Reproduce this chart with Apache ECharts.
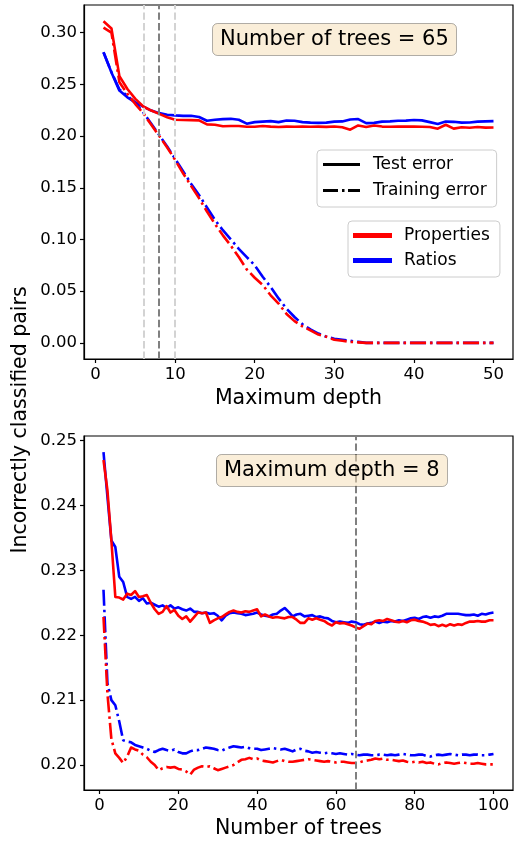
<!DOCTYPE html>
<html lang="en">
<head>
    <meta charset="UTF-8">
    <script src="https://cdn.jsdelivr.net/npm/echarts@6/dist/echarts.min.js"></script>
    <title>Incorrectly classified pairs</title>
    <style>
        html, body {
            margin: 0;
            padding: 0;
            background: #fff;
        }

        #main {
            width: 514px;
            height: 847px;
        }
    </style>
</head>

<body>
<div id="main"></div>

<script>
    // top panel: error vs maximum depth (number of trees = 65)
    var depthPropTest = [
        0.311, 0.304, 0.258, 0.2456, 0.236, 0.2286, 0.2247, 0.2215, 0.2183, 0.2158,
        0.2155, 0.2154, 0.2152, 0.2113, 0.2110, 0.2095, 0.2097, 0.2098, 0.2090, 0.2090,
        0.2098, 0.2092, 0.2088, 0.2092, 0.2090, 0.2093, 0.2090, 0.2092, 0.2089, 0.2093,
        0.2085, 0.2062, 0.2103, 0.2088, 0.2103, 0.2092, 0.2090, 0.2092, 0.2093, 0.2092,
        0.2090, 0.2088, 0.2072, 0.2110, 0.2072, 0.2085, 0.2080, 0.2088, 0.2082, 0.2083
    ];
    var depthPropTrain = [
        0.305, 0.300, 0.252, 0.241, 0.231, 0.222, 0.211, 0.200, 0.189, 0.177,
        0.164, 0.152, 0.140, 0.127, 0.115, 0.104, 0.094, 0.083, 0.071, 0.063,
        0.056, 0.046, 0.038, 0.028, 0.021, 0.016, 0.012, 0.008, 0.006, 0.003,
        0.002, 0.001, 0.0005, 0, 0, 0, 0, 0, 0, 0,
        0, 0, 0, 0, 0, 0, 0, 0, 0, 0
    ];
    var depthRatioTest = [
        0.281, 0.2615, 0.244, 0.2375, 0.2327, 0.2286, 0.2247, 0.2222, 0.2206, 0.2200,
        0.2196, 0.2196, 0.2185, 0.2148, 0.2158, 0.2164, 0.2167, 0.2158, 0.2120, 0.2135,
        0.2140, 0.2145, 0.2135, 0.2150, 0.2148, 0.2135, 0.2130, 0.2128, 0.2130, 0.2140,
        0.2142, 0.2160, 0.2165, 0.2125, 0.2128, 0.2140, 0.2142, 0.2148, 0.2150, 0.2155,
        0.2152, 0.2135, 0.2118, 0.2140, 0.2138, 0.2130, 0.2132, 0.2140, 0.2142, 0.2145
    ];
    var depthRatioTrain = [
        0.281, 0.262, 0.245, 0.239, 0.232, 0.223, 0.212, 0.201, 0.190, 0.178,
        0.166, 0.154, 0.143, 0.131, 0.119, 0.109, 0.100, 0.091, 0.083, 0.075,
        0.064, 0.054, 0.043, 0.033, 0.025, 0.018, 0.013, 0.009, 0.006, 0.004,
        0.003, 0.002, 0.001, 0, 0, 0, 0, 0, 0, 0,
        0, 0, 0, 0, 0, 0, 0, 0, 0, 0
    ];

    // bottom panel: error vs number of trees (maximum depth = 8)
    var treesPropTest = [
        0.2470, 0.2423, 0.2346, 0.2259, 0.2258, 0.2255, 0.2264, 0.2262, 0.2268, 0.2259,
        0.2260, 0.2262, 0.2250, 0.2240, 0.2233, 0.2236, 0.2245, 0.2235, 0.2239, 0.2230,
        0.2225, 0.2229, 0.2221, 0.2228, 0.2235, 0.2234, 0.2235, 0.2219, 0.2223, 0.2226,
        0.2228, 0.2232, 0.2236, 0.2238, 0.2236, 0.2235, 0.2237, 0.2236, 0.2238, 0.2240,
        0.2229, 0.2232, 0.2229, 0.2227, 0.2228, 0.2227, 0.2226, 0.2228, 0.2228, 0.2224,
        0.2219, 0.2219, 0.2226, 0.2224, 0.2226, 0.2224, 0.2222, 0.2218, 0.2215, 0.2220,
        0.2218, 0.2219, 0.2217, 0.2215, 0.2212, 0.2210, 0.2214, 0.2218, 0.2217, 0.2222,
        0.2223, 0.2222, 0.2225, 0.2223, 0.2221, 0.2220, 0.2222, 0.2220, 0.2223, 0.2224,
        0.2222, 0.2221, 0.2219, 0.2216, 0.2217, 0.2214, 0.2216, 0.2214, 0.2217, 0.2215,
        0.2217, 0.2216, 0.2219, 0.2221, 0.2221, 0.2222, 0.2221, 0.2221, 0.2223, 0.2223
    ];
    var treesRatioTest = [
        0.2482, 0.2413, 0.2346, 0.2336, 0.2290, 0.2282, 0.2259, 0.2256, 0.2259, 0.2253,
        0.2257, 0.2249, 0.2250, 0.2247, 0.2244, 0.2246, 0.2242, 0.2246, 0.2241, 0.2243,
        0.2240, 0.2238, 0.2241, 0.2236, 0.2236, 0.2234, 0.2235, 0.2233, 0.2234, 0.2230,
        0.2223, 0.2230, 0.2234, 0.2235, 0.2234, 0.2233, 0.2231, 0.2232, 0.2233, 0.2235,
        0.2232, 0.2230, 0.2229, 0.2232, 0.2233, 0.2238, 0.2242, 0.2236, 0.2229, 0.2232,
        0.2233, 0.2229, 0.2230, 0.2231, 0.2228, 0.2229, 0.2227, 0.2226, 0.2222, 0.2220,
        0.2221, 0.2220, 0.2219, 0.2221, 0.2220, 0.2217, 0.2216, 0.2218, 0.2219, 0.2221,
        0.2219, 0.2221, 0.2220, 0.2222, 0.2221, 0.2223, 0.2222, 0.2224, 0.2226, 0.2227,
        0.2225, 0.2228, 0.2229, 0.2227, 0.2229, 0.2228, 0.2230, 0.2233, 0.2233, 0.2233,
        0.2233, 0.2232, 0.2231, 0.2231, 0.2232, 0.2230, 0.2233, 0.2232, 0.2234, 0.2235
    ];
    var treesPropTrain = [
        0.2228, 0.2110, 0.2040, 0.2018, 0.2011, 0.2003, 0.2013, 0.2027, 0.2024, 0.2022,
        0.2016, 0.2012, 0.2005, 0.2000, 0.1992, 0.1995, 0.1997, 0.1996, 0.1997, 0.1994,
        0.1993, 0.1990, 0.1985, 0.1993, 0.1996, 0.1998, 0.1997, 0.1998, 0.1995, 0.1992,
        0.1994, 0.1996, 0.1998, 0.2000, 0.2004, 0.2008, 0.2009, 0.2011, 0.2009, 0.2010,
        0.2007, 0.2006, 0.2005, 0.2004, 0.2006, 0.2008, 0.2006, 0.2005, 0.2005, 0.2006,
        0.2007, 0.2008, 0.2009, 0.2008, 0.2007, 0.2006, 0.2005, 0.2006, 0.2005, 0.2004,
        0.2005, 0.2005, 0.2004, 0.2003, 0.2003, 0.2004, 0.2006, 0.2007, 0.2008, 0.2010,
        0.2009, 0.2010, 0.2008, 0.2008, 0.2007, 0.2006, 0.2007, 0.2005, 0.2004, 0.2005,
        0.2004, 0.2005, 0.2003, 0.2004, 0.2002, 0.2001, 0.2003, 0.2004, 0.2003, 0.2002,
        0.2003, 0.2004, 0.2003, 0.2002, 0.2002, 0.2003, 0.2002, 0.2001, 0.2001, 0.2001
    ];
    var treesRatioTrain = [
        0.2270, 0.2126, 0.2100, 0.2092, 0.2067, 0.2038, 0.2036, 0.2035, 0.2031, 0.2029,
        0.2027, 0.2025, 0.2022, 0.2020, 0.2023, 0.2025, 0.2023, 0.2022, 0.2024, 0.2020,
        0.2018, 0.2018, 0.2021, 0.2023, 0.2023, 0.2025, 0.2027, 0.2026, 0.2025, 0.2023,
        0.2022, 0.2025, 0.2027, 0.2029, 0.2028, 0.2027, 0.2028, 0.2026, 0.2025, 0.2025,
        0.2023, 0.2024, 0.2025, 0.2026, 0.2025, 0.2024, 0.2025, 0.2023, 0.2021, 0.2024,
        0.2025, 0.2022, 0.2021, 0.2019, 0.2020, 0.2019, 0.2018, 0.2019, 0.2018, 0.2017,
        0.2018, 0.2017, 0.2016, 0.2017, 0.2016, 0.2015, 0.2016, 0.2016, 0.2015, 0.2015,
        0.2016, 0.2016, 0.2015, 0.2016, 0.2015, 0.2016, 0.2017, 0.2016, 0.2015, 0.2015,
        0.2016, 0.2016, 0.2014, 0.2013, 0.2015, 0.2016, 0.2015, 0.2016, 0.2017, 0.2016,
        0.2015, 0.2016, 0.2016, 0.2015, 0.2016, 0.2016, 0.2015, 0.2015, 0.2016, 0.2017
    ];

    var depthTicks = [0, 10, 20, 30, 40, 50];
    var depthErrTicks = [0, 0.05, 0.10, 0.15, 0.20, 0.25, 0.30];
    var treesTicks = [0, 20, 40, 60, 80, 100];
    var treesErrTicks = [0.20, 0.21, 0.22, 0.23, 0.24, 0.25];
    var depthMarks = [6, 8, 10];   // chosen depth 8, neighbours 6 and 10
    var treesMarks = [65];

    var FONT = 'DejaVu Sans';
    var RED = '#ff0000';
    var BLUE = '#0000ff';
    var DASHDOT = [16, 4, 2.5, 4];

    function pairs(ys) {
        return ys.map(function (v, i) {
            return [i + 1, v];
        });
    }

    function xAxisOf(gridIndex, min, max, ticks, name, gap) {
        return {
            type: 'value', gridIndex: gridIndex, min: min, max: max,
            name: name, nameLocation: 'middle', nameGap: gap,
            nameTextStyle: {fontFamily: FONT, fontSize: 20.5, color: '#000'},
            splitLine: {show: false},
            axisLine: {show: true, onZero: false, lineStyle: {color: '#000', width: 1.2}},
            axisTick: {show: true, length: 4, customValues: ticks, lineStyle: {color: '#000', width: 1.2}},
            axisLabel: {
                customValues: ticks, margin: 7,
                fontFamily: FONT, fontSize: 16.5, color: '#000',
                formatter: function (v) { return String(Math.round(v)); }
            }
        };
    }

    function yAxisOf(gridIndex, min, max, ticks) {
        return {
            type: 'value', gridIndex: gridIndex, min: min, max: max,
            splitLine: {show: false},
            axisLine: {show: true, onZero: false, lineStyle: {color: '#000', width: 1.2}},
            axisTick: {show: true, length: 4, customValues: ticks, lineStyle: {color: '#000', width: 1.2}},
            axisLabel: {
                customValues: ticks, margin: 7,
                fontFamily: FONT, fontSize: 16.5, color: '#000',
                formatter: function (v) { return v.toFixed(2); }
            }
        };
    }

    function lineOf(name, idx, ys, color, dashed) {
        return {
            name: name, type: 'line',
            xAxisIndex: idx, yAxisIndex: idx,
            data: pairs(ys),
            color: color,
            symbol: 'none',
            lineStyle: {color: color, width: 2.6, type: dashed ? DASHDOT : 'solid', cap: 'butt', join: 'round'}
        };
    }

    function marksOf(values, colors) {
        return {
            symbol: 'none', silent: true, animation: false,
            label: {show: false},
            data: values.map(function (v, i) {
                return {xAxis: v, lineStyle: {color: colors[i], width: 2, type: [7.4, 3.2]}};
            })
        };
    }

    var myChart = echarts.init(document.getElementById('main'));

    var topTest = lineOf('Properties', 0, depthPropTest, RED, false);
    topTest.markLine = marksOf(depthMarks, ['#d3d3d3', '#808080', '#d3d3d3']);
    var bottomTest = lineOf('Properties', 1, treesPropTest, RED, false);
    bottomTest.markLine = marksOf(treesMarks, ['#808080']);

    var boxStyle = {
        backgroundColor: 'rgba(245,222,179,0.5)',
        borderColor: 'rgba(0,0,0,0.3)',
        borderWidth: 1,
        borderRadius: 5,
        padding: [6, 8],
        textStyle: {fontFamily: FONT, fontSize: 21, fontWeight: 'normal', color: '#000'}
    };

    var legendStyle = {
        orient: 'vertical', selectedMode: false, symbolKeepAspect: false,
        backgroundColor: 'rgba(255,255,255,0.8)',
        borderColor: '#cccccc', borderWidth: 1, borderRadius: 4,
        itemStyle: {borderWidth: 0}
    };

    var option = {
        animation: false,
        textStyle: {fontFamily: FONT},
        title: [
            Object.assign({text: 'Number of trees = 65', left: 212, top: 23}, boxStyle),
            Object.assign({text: 'Maximum depth = 8', left: 216, top: 454}, boxStyle)
        ],
        legend: [
            Object.assign({}, legendStyle, {
                left: 317, top: 150, padding: [6, 10, 8, 6], itemGap: 9,
                itemWidth: 37, itemHeight: 3,
                textStyle: {fontFamily: FONT, fontSize: 17, color: '#000', padding: [0, 0, 0, 8]},
                data: [
                    {name: 'Test error', icon: 'path://M0,0H37V3H0Z'},
                    {name: 'Training error', icon: 'path://M0,0H15V3H0Z M19,0H21.5V3H19Z M25,0H37V3H25Z'}
                ]
            }),
            Object.assign({}, legendStyle, {
                left: 348, top: 221, padding: [6, 10, 8, 5], itemGap: 8,
                itemWidth: 39, itemHeight: 5,
                textStyle: {fontFamily: FONT, fontSize: 17, color: '#000', padding: [0, 0, 0, 7]},
                data: [
                    {name: 'Properties', icon: 'rect'},
                    {name: 'Ratios', icon: 'rect'}
                ]
            })
        ],
        grid: [
            {left: 84, top: 5, right: 1, height: 354, show: true, borderColor: '#000', borderWidth: 1.2, backgroundColor: 'transparent'},
            {left: 84, top: 436, right: 1, height: 354, show: true, borderColor: '#000', borderWidth: 1.2, backgroundColor: 'transparent'}
        ],
        xAxis: [
            xAxisOf(0, -1.45, 52.45, depthTicks, 'Maximum depth', 29),
            xAxisOf(1, -3.95, 104.95, treesTicks, 'Number of trees', 28)
        ],
        yAxis: [
            yAxisOf(0, -0.0156, 0.3268, depthErrTicks),
            yAxisOf(1, 0.19615, 0.2507, treesErrTicks)
        ],
        graphic: [
            {
                type: 'text', x: 21, y: 420, rotation: Math.PI / 2,
                style: {
                    text: 'Incorrectly classified pairs', fontFamily: FONT, fontSize: 20.5,
                    fill: '#000', align: 'center', verticalAlign: 'middle'
                }
            }
        ],
        series: [
            lineOf('Ratios', 0, depthRatioTest, BLUE, false),
            lineOf('Ratios', 0, depthRatioTrain, BLUE, true),
            topTest,
            lineOf('Properties', 0, depthPropTrain, RED, true),
            lineOf('Ratios', 1, treesRatioTest, BLUE, false),
            lineOf('Ratios', 1, treesRatioTrain, BLUE, true),
            bottomTest,
            lineOf('Properties', 1, treesPropTrain, RED, true),
            // legend-only series for the line style key
            {name: 'Test error', type: 'line', xAxisIndex: 0, yAxisIndex: 0, data: [], color: '#000'},
            {name: 'Training error', type: 'line', xAxisIndex: 0, yAxisIndex: 0, data: [], color: '#000'}
        ]
    };

    myChart.setOption(option);
</script>

</body>

</html>
